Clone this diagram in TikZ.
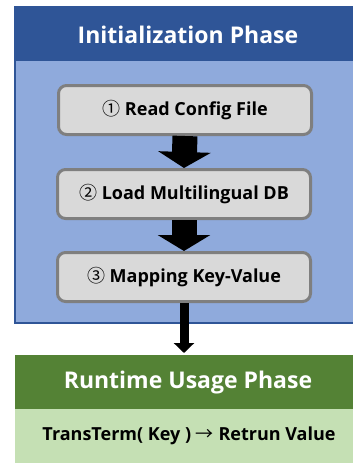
\documentclass[tikz,border=0pt]{standalone}
\usepackage{fontspec}
\setmainfont{Open Sans}
\newfontfamily\symfont{Noto Sans CJK KR}
\newcommand\glyph[1]{{\symfont\mdseries #1}}
\usetikzlibrary{arrows.meta}

\definecolor{hdrblue}{HTML}{2F5597}
\definecolor{bodyblue}{HTML}{8FAADC}
\definecolor{stepfill}{HTML}{D9D9D9}
\definecolor{stepline}{HTML}{7F7F7F}
\definecolor{hdrgreen}{HTML}{548235}
\definecolor{bodygreen}{HTML}{C5E0B4}

\tikzset{
  phasetitle/.style={text=white, font=\fontsize{23}{27}\selectfont\bfseries, inner sep=0pt},
  steptext/.style={font=\fontsize{18}{22}\selectfont\bfseries},
  stepbox/.style={steptext, draw=stepline, fill=stepfill, line width=3pt, rounded corners=8pt,
    minimum width=253pt, minimum height=49pt, inner sep=0pt},
  bandfill/.style={inner sep=0pt, outer sep=0pt, anchor=north west},
  fatarrow/.style={line width=25pt, -{Triangle[width=52pt,length=16pt]}},
  thinarrow/.style={line width=9pt, -{Triangle[width=20pt,length=10pt]}},
}

\begin{document}
\begin{tikzpicture}[x=1pt,y=-1pt]
\useasboundingbox (0,0) rectangle (353,463);
\clip (0,0) rectangle (353,463);

% Initialization phase frame
\node[bandfill, fill=bodyblue, minimum width=360pt, minimum height=316pt] (initbody) at (15,7) {};
\node[bandfill, fill=hdrblue, minimum width=360pt, minimum height=54pt] (inithdr) at (15,7) {};
\draw[hdrblue, line width=2pt] (initbody.north west) rectangle (initbody.south east);
\node[phasetitle] (inittitle) at (188,35) {Initialization Phase};

% Steps
\node[stepbox] (s1) at (185,110) {\glyph{①} Read Config File};
\node[stepbox] (s2) at (184,194) {\glyph{②} Load Multilingual DB};
\node[stepbox] (s3) at (184,277) {\glyph{③} Mapping Key-Value};

% Runtime usage phase frame
\node[bandfill, fill=bodygreen, minimum width=360pt, minimum height=120pt] (runbody) at (15,355) {};
\node[bandfill, fill=hdrgreen, minimum width=360pt, minimum height=54pt] (runhdr) at (15,355) {};
\node[phasetitle] (runtitle) at (188,383) {Runtime Usage Phase};
\node[steptext, inner sep=0pt] (call) at (189,436)
  {TransTerm( Key ) \glyph{→} Retrun Value};

% Flow arrows
\draw[fatarrow] (s1.south) -- (s2.north);
\draw[fatarrow] (s2.south) -- (s3.north);
\draw[thinarrow, shorten >=2pt] (s3.south) -- (s3.south |- runhdr.north);
\end{tikzpicture}
\end{document}
